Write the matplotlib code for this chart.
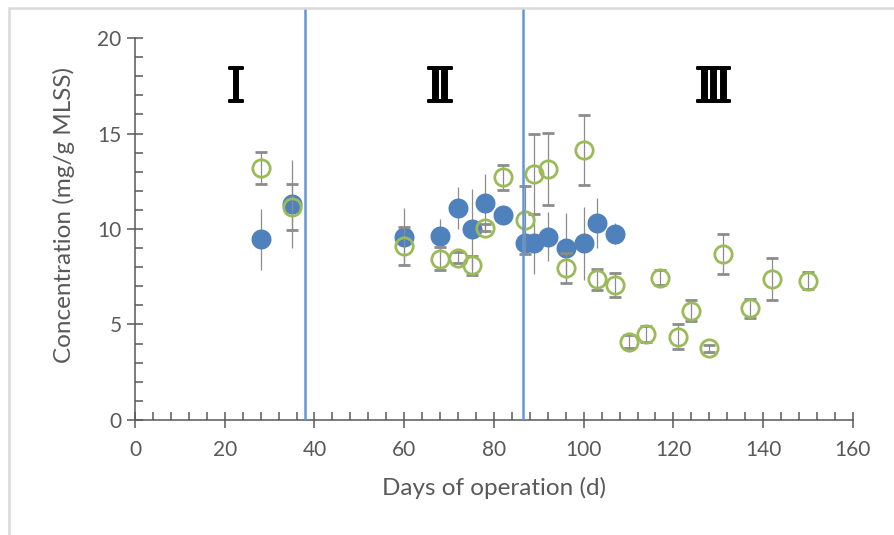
import numpy as np
import matplotlib
matplotlib.use('Agg')
import matplotlib.pyplot as plt
import matplotlib.patheffects as pe
from matplotlib.ticker import MultipleLocator
from matplotlib.patches import Rectangle

# filled series
days_a = [28, 35, 60, 68, 72, 75, 78, 82, 87, 89, 92, 96, 100, 103, 107]
conc_a = [9.45, 11.3, 9.6, 9.65, 11.1, 10.0, 11.35, 10.75, 9.25, 9.25, 9.6, 9.0, 9.25, 10.3, 9.75]
err_a = [1.6, 2.3, 1.5, 0.85, 1.1, 2.1, 1.55, 0.4, 0.6, 1.6, 1.3, 1.85, 1.9, 1.3, 0.55]

# open series
days_b = [28, 35, 60, 68, 72, 75, 78, 82, 87, 89, 92, 96, 100, 103, 107,
          110, 114, 117, 121, 124, 128, 131, 137, 142, 150]
conc_b = [13.2, 11.15, 9.1, 8.45, 8.5, 8.1, 10.07, 12.7, 10.47, 12.9, 13.14, 7.97, 14.14, 7.37, 7.05,
          4.1, 4.5, 7.45, 4.36, 5.72, 3.75, 8.67, 5.85, 7.37, 7.3]
err_b = [0.85, 1.2, 1.0, 0.6, 0.3, 0.5, 0.2, 0.65, 1.8, 2.1, 1.9, 0.78, 1.85, 0.56, 0.63,
         0.35, 0.4, 0.4, 0.65, 0.55, 0.2, 1.05, 0.5, 1.1, 0.45]

phase_bounds = [38, 86.5]
phase_names = ['Ⅰ', 'Ⅱ', 'Ⅲ']
phase_x = [22.5, 68, 129]

gray = '#595959'

fig = plt.figure(figsize=(8.94, 5.35), dpi=100)
ax = fig.add_axes([0.151, 0.215, 0.803, 0.7675])

ax.errorbar(days_a, conc_a, yerr=err_a, fmt='o', ms=14.4, mfc='#4f81bd', mec='#4f81bd', mew=0,
            ecolor='#8c8c8c', elinewidth=0.9, capsize=4.3, capthick=0.9, zorder=3)
ax.errorbar(days_b, conc_b, yerr=err_b, fmt='o', ms=12.5, mfc='none', mec='#9bbb59', mew=2.0,
            ecolor='#8c8c8c', elinewidth=0.9, capsize=4.3, capthick=0.9, zorder=4)

for xb in phase_bounds:
    ax.axvline(xb, color='#6396d6', lw=1.8, zorder=5)

# phase labels, slightly thickened serif numerals
for name, xp in zip(phase_names, phase_x):
    ax.text(xp, 17.35, name, ha='center', va='center', fontsize=35, fontweight='normal',
            family=['DejaVu Serif', 'Liberation Serif'], color='black',
            path_effects=[pe.withStroke(linewidth=1.4, foreground='black')])

ax.set_xlim(0, 160)
ax.set_ylim(0, 21.5)
ax.set_xticks(np.arange(0, 161, 20))
ax.set_yticks(np.arange(0, 21, 5))
ax.xaxis.set_minor_locator(MultipleLocator(4))
ax.set_yticks([v for v in range(0, 21) if v % 5], minor=True)

for s in ['top', 'right']:
    ax.spines[s].set_visible(False)
for s in ['left', 'bottom']:
    ax.spines[s].set_color(gray)
    ax.spines[s].set_linewidth(1.1)
ax.spines['left'].set_bounds(0, 20)

ax.tick_params(which='major', direction='inout', length=11.5, width=1.1, color=gray,
               labelcolor=gray, labelsize=15, pad=4)
ax.tick_params(axis='x', which='major', pad=9)
ax.tick_params(which='minor', direction='in', length=5.8, width=1.1, color=gray)
for lab in ax.get_xticklabels() + ax.get_yticklabels():
    lab.set_family('Lato')

ax.set_xlabel('Days of operation (d)', fontsize=17.5, color=gray, family='Lato', labelpad=12)
ax.set_ylabel('Concentration (mg/g MLSS)', fontsize=17.5, color=gray, family='Lato', labelpad=16)

fig.patches.append(Rectangle((8.5 / 894, -0.1), 1.2, 1.1 - 8.5 / 535, transform=fig.transFigure,
                             fill=False, edgecolor='#d9d9d9', lw=1.8))

fig.savefig('out.png', dpi=100)
